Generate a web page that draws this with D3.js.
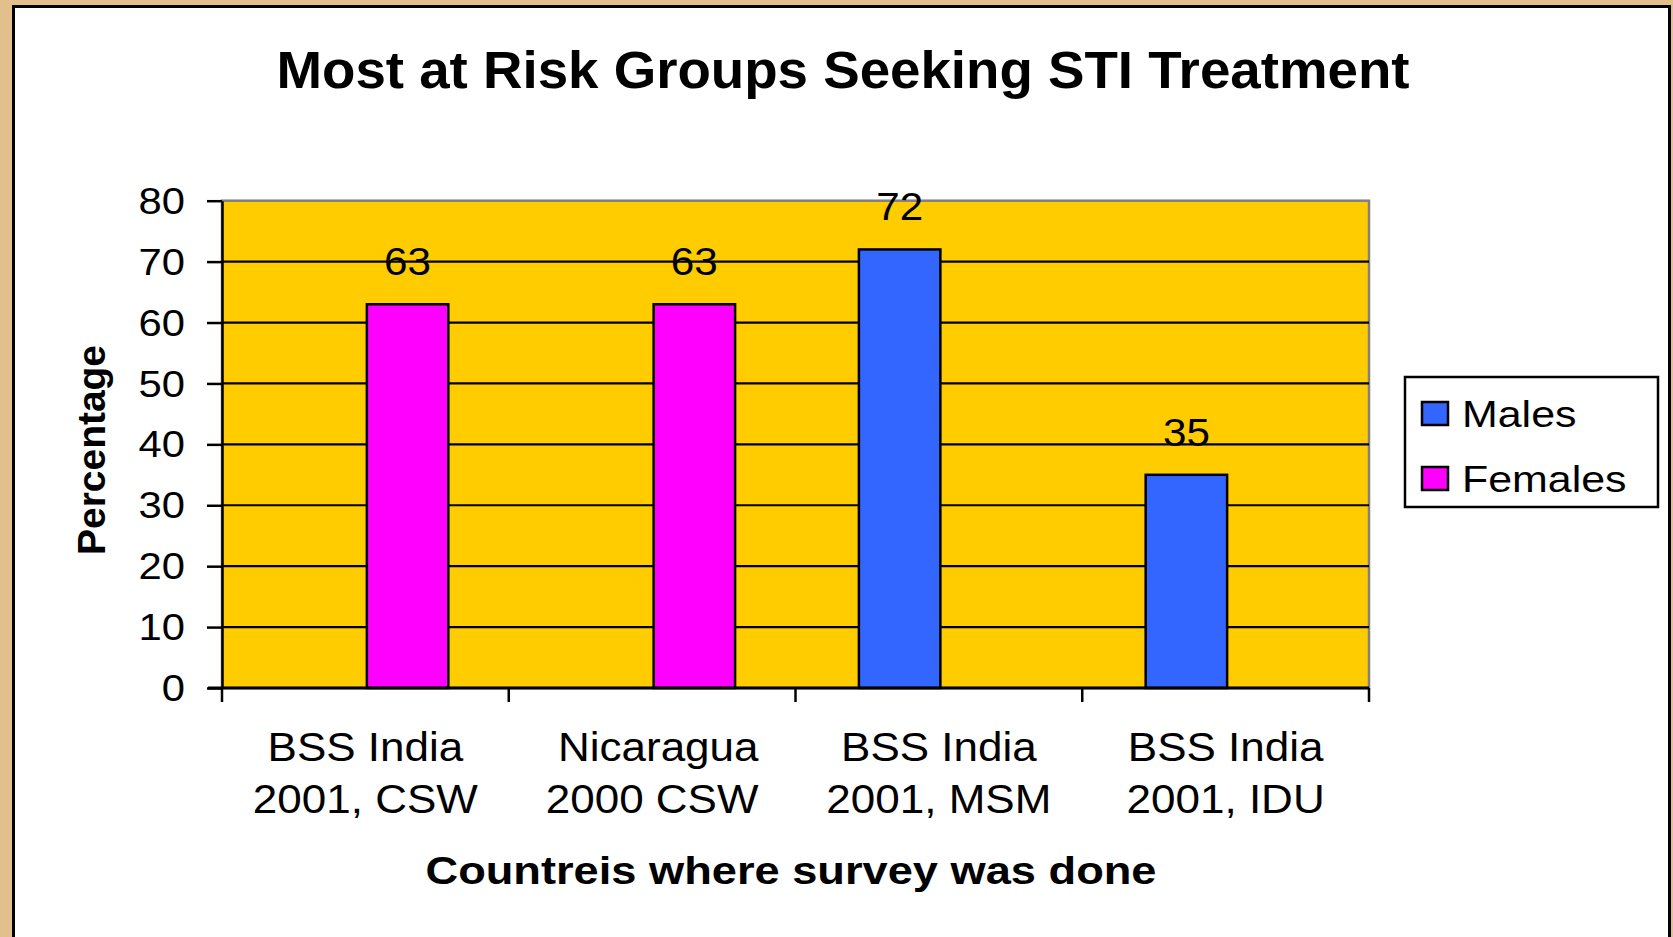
<!DOCTYPE html>
<html>
<head>
<meta charset="utf-8">
<script src="https://cdn.jsdelivr.net/npm/d3@7"></script>
<style>
  html, body { margin: 0; padding: 0; background: #E3BF8B; overflow: hidden; }
  svg { display: block; }
  text { font-family: "Liberation Sans", Arial, Helvetica, sans-serif; fill: #000; }
</style>
</head>
<body>
<svg id="chart" width="1673" height="937"></svg>
<script>
// ---- data ----
const categories = ["BSS India\n2001, CSW", "\u00A0Nicaragua\n2000 CSW", "BSS India\n2001, MSM", "BSS India\n2001, IDU"];
const seriesNames = ["Males", "Females"];
const malesValues = [null, null, 72, 35];
const femalesValues = [63, 63, null, null];
const yTickValues = [0, 10, 20, 30, 40, 50, 60, 70, 80];
const seriesColors = ["#3366FF", "#FF00FF"];
const titleText = "Most at Risk Groups Seeking STI Treatment";
const xTitleText = "Countreis where survey was done";
const yTitleText = "Percentage";

const seriesValues = [malesValues, femalesValues];

// ---- layout ----
const W = 1673, H = 937;
const plot = { left: 222, right: 1369, top: 200.7, bottom: 688 };

const svg = d3.select("#chart");

function stretch(sel, factor) {
  sel.each(function () {
    const n = this.getComputedTextLength();
    d3.select(this).attr("textLength", n * factor).attr("lengthAdjust", "spacingAndGlyphs");
  });
}

// frame
svg.append("rect").attr("x", 0).attr("y", 0).attr("width", W).attr("height", H).attr("fill", "#E3BF8B");
svg.append("rect").attr("x", 13.5).attr("y", 6.5).attr("width", 1656).attr("height", 1000)
  .attr("fill", "#fff").attr("stroke", "#000").attr("stroke-width", 3);

// scales
const x = d3.scaleBand().domain(categories).range([plot.left, plot.right]).padding(0);
const xs = d3.scaleBand().domain(seriesNames).range([0, x.bandwidth()]).paddingInner(0).paddingOuter(0.76);
const y = d3.scaleLinear().domain([0, 80]).range([plot.bottom, plot.top]);

// plot area
svg.append("rect")
  .attr("x", plot.left).attr("y", y(80))
  .attr("width", plot.right - plot.left).attr("height", y(0) - y(80))
  .attr("fill", "#FFCC00").attr("stroke", "#808080").attr("stroke-width", 2.5);

// gridlines
svg.append("g").selectAll("line")
  .data(yTickValues.filter(v => v > 0 && v < 80))
  .join("line")
  .attr("x1", plot.left).attr("x2", plot.right)
  .attr("y1", d => y(d)).attr("y2", d => y(d))
  .attr("stroke", "#000").attr("stroke-width", 2.2);

// bars
const barData = [];
categories.forEach((c, i) => {
  seriesNames.forEach((s, j) => {
    const v = seriesValues[j][i];
    if (v != null) barData.push({ c, s, v, color: seriesColors[j] });
  });
});

svg.append("g").selectAll("rect")
  .data(barData)
  .join("rect")
  .attr("x", d => x(d.c) + xs(d.s) + 1.5)
  .attr("y", d => y(d.v))
  .attr("width", xs.bandwidth())
  .attr("height", d => y(0) - y(d.v))
  .attr("fill", d => d.color)
  .attr("stroke", "#000").attr("stroke-width", 2.5);

// data labels
svg.append("g").selectAll("text")
  .data(barData)
  .join("text")
  .attr("x", d => x(d.c) + xs(d.s) + 1.5 + xs.bandwidth() / 2)
  .attr("y", d => y(d.v) - 29)
  .attr("text-anchor", "middle")
  .attr("font-size", 38)
  .text(d => d.v)
  .call(stretch, 1.11);

// y axis
const yAxis = d3.axisLeft(y).tickValues(yTickValues).tickSize(15).tickSizeOuter(0).tickPadding(22);
const gy = svg.append("g").attr("transform", `translate(${plot.left},0)`).call(yAxis);
gy.select(".domain").attr("stroke", "#000").attr("stroke-width", 2.5);
gy.selectAll(".tick line").attr("stroke", "#000").attr("stroke-width", 2.5);
gy.selectAll(".tick text")
  .attr("font-size", 36)
  .attr("font-family", "Liberation Sans, Arial, sans-serif")
  .attr("fill", "#000")
  .attr("dy", "0.35em")
  .call(stretch, 1.16);

// x axis line & ticks at category boundaries
const gx = svg.append("g");
gx.append("line")
  .attr("x1", plot.left - 14).attr("x2", plot.right)
  .attr("y1", y(0)).attr("y2", y(0))
  .attr("stroke", "#000").attr("stroke-width", 3);
const boundaries = categories.map(c => x(c)).concat([x.range()[1]]);
gx.selectAll("line.tk")
  .data(boundaries)
  .join("line")
  .attr("class", "tk")
  .attr("x1", d => d).attr("x2", d => d)
  .attr("y1", y(0)).attr("y2", y(0) + 14)
  .attr("stroke", "#000").attr("stroke-width", 2.5);

// category labels
const catG = svg.append("g").selectAll("text")
  .data(categories)
  .join("text")
  .attr("text-anchor", "middle")
  .attr("font-size", 40);
catG.each(function (c) {
  const lines = c.split("\n");
  const t = d3.select(this);
  lines.forEach((ln, k) => {
    t.append("tspan")
      .attr("x", x(c) + x.bandwidth() / 2)
      .attr("y", 761 + k * 52)
      .text(ln);
  });
});
catG.selectAll("tspan").call(stretch, 1.1);

// titles
svg.append("text")
  .attr("x", 843).attr("y", 88)
  .attr("text-anchor", "middle")
  .attr("font-size", 51).attr("font-weight", "bold")
  .text(titleText)
  .attr("textLength", 1133).attr("lengthAdjust", "spacingAndGlyphs");

svg.append("text")
  .attr("x", 791).attr("y", 884)
  .attr("text-anchor", "middle")
  .attr("font-size", 38).attr("font-weight", "bold")
  .text(xTitleText)
  .attr("textLength", 731).attr("lengthAdjust", "spacingAndGlyphs");

svg.append("text")
  .attr("transform", "translate(105,450) rotate(-90)")
  .attr("text-anchor", "middle")
  .attr("font-size", 38).attr("font-weight", "bold")
  .text(yTitleText)
  .attr("textLength", 210).attr("lengthAdjust", "spacingAndGlyphs");

// legend
const lg = svg.append("g");
lg.append("rect")
  .attr("x", 1405).attr("y", 377).attr("width", 253).attr("height", 130)
  .attr("fill", "#fff").attr("stroke", "#000").attr("stroke-width", 2.5);
const items = lg.selectAll("g.item")
  .data(seriesNames)
  .join("g")
  .attr("class", "item")
  .attr("transform", (d, i) => `translate(1422,${402 + i * 65})`);
items.append("rect")
  .attr("width", 26).attr("height", 23)
  .attr("fill", (d, i) => seriesColors[i])
  .attr("stroke", "#000").attr("stroke-width", 2.5);
items.append("text")
  .attr("x", 40).attr("y", 25)
  .attr("font-size", 37)
  .text(d => d)
  .call(stretch, 1.16);
</script>
</body>
</html>
